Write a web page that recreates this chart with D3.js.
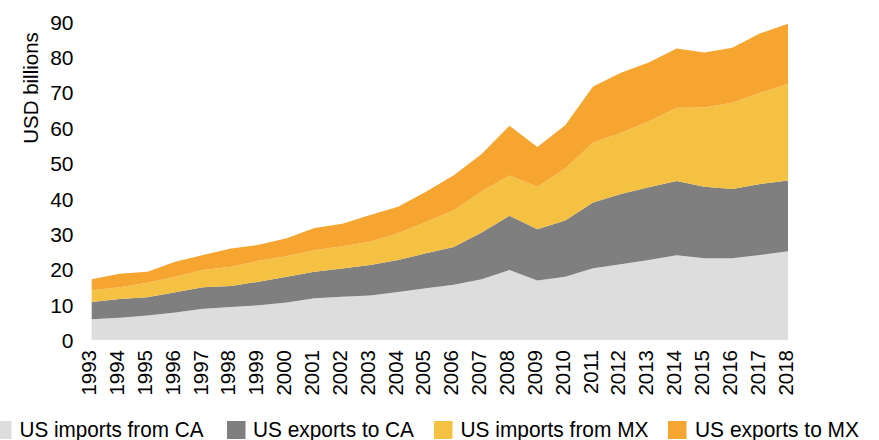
<!DOCTYPE html>
<html>
<head>
<meta charset="utf-8">
<script src="https://cdn.jsdelivr.net/npm/d3@7"></script>
<style>
  html, body { margin: 0; padding: 0; background: #fff; }
  svg { display: block; font-family: "Liberation Sans", Arial, sans-serif; }
</style>
</head>
<body>
<svg id="chart" width="879" height="440"></svg>
<script>
const years = [1993,1994,1995,1996,1997,1998,1999,2000,2001,2002,2003,2004,2005,2006,2007,2008,2009,2010,2011,2012,2013,2014,2015,2016,2017,2018];
const importsFromCA = [5.85,6.3,6.9,7.8,8.85,9.3,9.8,10.6,11.8,12.2,12.6,13.6,14.6,15.6,17.2,19.8,16.8,17.9,20.3,21.4,22.6,23.95,23.1,23.1,24.0,25.1];
const exportsToCA   = [4.9,5.3,5.2,5.7,6.05,6.0,6.7,7.3,7.5,8.0,8.6,9.05,9.9,10.7,13.2,15.3,14.5,15.9,18.55,19.9,20.6,21.0,20.2,19.6,20.1,20.0];
const importsFromMX = [3.3,3.3,4.1,4.4,4.9,5.4,5.9,5.8,6.1,6.3,6.6,7.5,8.9,10.4,11.6,11.4,12.0,14.7,17.0,17.2,18.55,20.7,22.45,24.4,25.8,27.25];
const exportsToMX   = [3.1,3.8,3.1,4.2,4.2,5.2,4.5,5.1,6.3,6.4,7.55,7.5,8.5,9.9,10.6,14.05,11.3,12.25,15.8,17.1,16.7,16.8,15.55,15.55,16.8,17.05];
const seriesNames = ["US imports from CA","US exports to CA","US imports from MX","US exports to MX"];
const seriesColors = ["#dddddd","#7f7f7f","#f4c142","#f5a530"];
const yTicks = [0,10,20,30,40,50,60,70,80,90];
const yTitle = "USD billions";

const seriesData = [importsFromCA, exportsToCA, importsFromMX, exportsToMX];
const rows = years.map((y, i) => {
  const r = { year: y };
  seriesNames.forEach((n, k) => r[n] = seriesData[k][i]);
  return r;
});

const svg = d3.select("#chart");
const plot = { left: 91.7, right: 788, top: 21.7, bottom: 340 };

const x = d3.scalePoint().domain(years).range([plot.left, plot.right]);
const y = d3.scaleLinear().domain([0, 90]).range([plot.bottom, plot.top]);

const stack = d3.stack().keys(seriesNames);
const stacked = stack(rows);

const area = d3.area()
  .x(d => x(d.data.year))
  .y0(d => y(d[0]))
  .y1(d => y(d[1]));

svg.append("g").selectAll("path")
  .data(stacked)
  .join("path")
  .attr("fill", (d, i) => seriesColors[i])
  .attr("d", area);

// Y axis
const yAxis = d3.axisLeft(y).tickValues(yTicks).tickSize(0).tickPadding(0);
const gy = svg.append("g").attr("transform", `translate(73.5,0)`).call(yAxis);
gy.select(".domain").remove();
gy.selectAll("text")
  .attr("font-size", 21)
  .attr("fill", "#000")
  .attr("font-family", "Liberation Sans, Arial, sans-serif")
  .attr("dy", "0.36em");

// X axis
const xAxis = d3.axisBottom(x).tickSize(0).tickPadding(0).tickFormat(d3.format("d"));
const gx = svg.append("g").attr("transform", `translate(0,${plot.bottom})`).call(xAxis);
gx.select(".domain").remove();
gx.selectAll("text")
  .attr("font-size", 20.5)
  .attr("fill", "#000")
  .attr("font-family", "Liberation Sans, Arial, sans-serif")
  .attr("text-anchor", "end")
  .attr("y", 0)
  .attr("dy", "0")
  .attr("transform", "translate(4,10) rotate(-90)");

// Y title
svg.append("text")
  .attr("transform", "translate(38,88) rotate(-90)")
  .attr("text-anchor", "middle")
  .attr("font-size", 20.5)
  .attr("fill", "#000")
  .text(yTitle);

// Legend
const legendSwatchX = [-7, 227, 434, 668];
const legendTextX = [19.5, 253, 460.5, 695];
const legendTextW = [184, 161, 188, 164];
const lg = svg.append("g");
seriesNames.forEach((n, i) => {
  lg.append("rect")
    .attr("x", legendSwatchX[i]).attr("y", 421)
    .attr("width", 18.5).attr("height", 18)
    .attr("fill", seriesColors[i]);
  lg.append("text")
    .attr("x", legendTextX[i]).attr("y", 436.5)
    .attr("font-size", 22)
    .attr("fill", "#000")
    .attr("textLength", legendTextW[i])
    .attr("lengthAdjust", "spacingAndGlyphs")
    .text(n);
});
</script>
</body>
</html>
